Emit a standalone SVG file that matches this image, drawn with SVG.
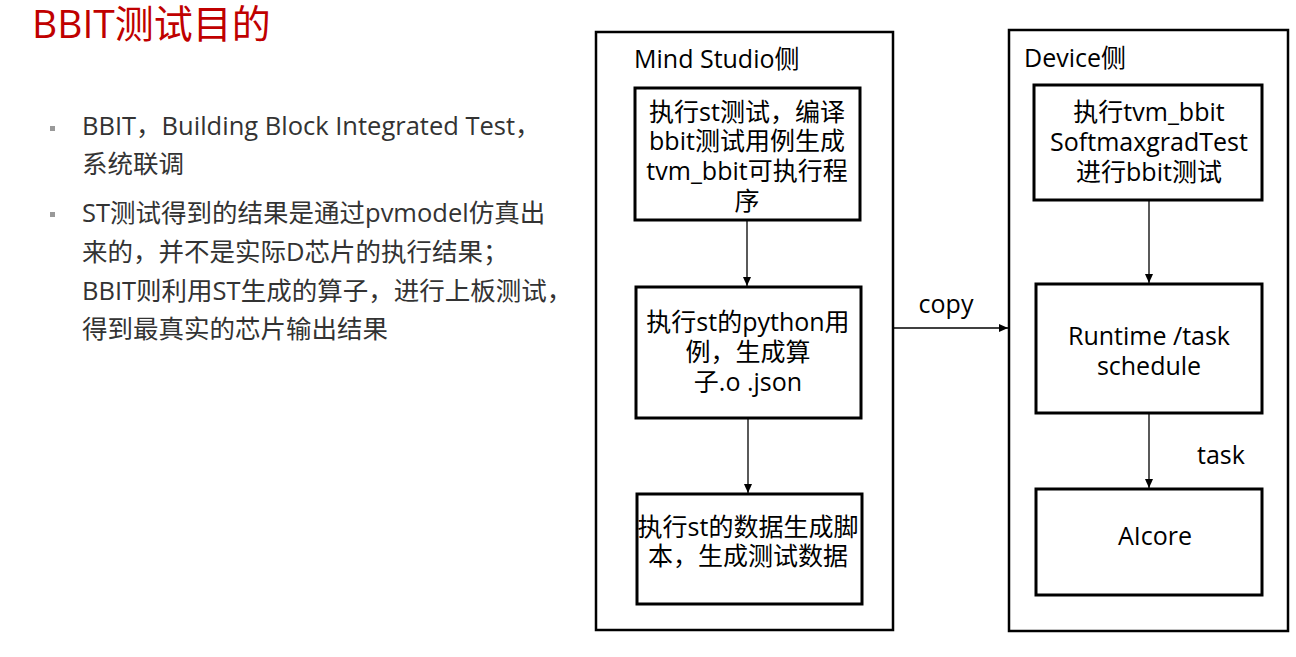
<svg xmlns="http://www.w3.org/2000/svg" width="1296" height="657" viewBox="0 0 1296 657">
<defs>
<style>
text{font-family:"Open Sans","Noto Sans CJK SC",sans-serif;}
.title{font-size:39px;fill:#c00000;}
.body{font-size:25.5px;fill:#333;}
.lbl{font-size:25px;fill:#000;text-anchor:middle;}
.hdr{font-size:25px;fill:#000;}
.box{fill:#fff;stroke:#000;stroke-width:3;}
.frame{fill:#fff;stroke:#000;stroke-width:2.5;}
.conn{stroke:#000;stroke-width:1.3;fill:none;marker-end:url(#ah);}
.bul{fill:#999;}
</style>
<marker id="ah" markerWidth="10" markerHeight="10" refX="9" refY="5" orient="auto" markerUnits="userSpaceOnUse">
<path d="M0,1 L9,5 L0,9 Z" fill="#000"/>
</marker>
</defs>
<rect width="1296" height="657" fill="#fff"/>
<text class="title" x="32" y="38">BBIT测试目的</text>
<g id="bullets">
<rect class="bul" x="50" y="126" width="5" height="5"/>
<rect class="bul" x="50" y="212" width="5" height="5"/>
<text class="body" x="82" y="135">BBIT，Building Block Integrated Test，</text>
<text class="body" x="82" y="173">系统联调</text>
<text class="body" x="82" y="222">ST测试得到的结果是通过pvmodel仿真出</text>
<text class="body" x="82" y="261">来的，并不是实际D芯片的执行结果；</text>
<text class="body" x="82" y="300">BBIT则利用ST生成的算子，进行上板测试，</text>
<text class="body" x="82" y="338">得到最真实的芯片输出结果</text>
</g>
<g id="mindstudio">
<rect class="frame" x="596" y="32" width="297" height="598"/>
<text class="hdr" x="634" y="68">Mind Studio侧</text>
</g>
<g id="device">
<rect class="frame" x="1009" y="30" width="279" height="601"/>
<text class="hdr" x="1024" y="67">Device侧</text>
</g>
<g id="n1">
<rect class="box" x="635" y="88" width="225" height="132"/>
<text class="lbl" x="747" y="121">执行st测试，编译</text>
<text class="lbl" x="747" y="150">bbit测试用例生成</text>
<text class="lbl" x="747" y="180">tvm_bbit可执行程</text>
<text class="lbl" x="747" y="210">序</text>
</g>
<g id="n2">
<rect class="box" x="636" y="287" width="225" height="131"/>
<text class="lbl" x="748" y="331">执行st的python用</text>
<text class="lbl" x="748" y="361">例，生成算</text>
<text class="lbl" x="748" y="391">子.o .json</text>
</g>
<g id="n3">
<rect class="box" x="637" y="494" width="225" height="110"/>
<text class="lbl" x="748" y="536">执行st的数据生成脚</text>
<text class="lbl" x="748" y="565">本，生成测试数据</text>
</g>
<g id="r1">
<rect class="box" x="1034" y="85" width="228" height="115"/>
<text class="lbl" x="1149" y="121">执行tvm_bbit</text>
<text class="lbl" x="1149" y="151">SoftmaxgradTest</text>
<text class="lbl" x="1149" y="181">进行bbit测试</text>
</g>
<g id="r2">
<rect class="box" x="1036" y="284" width="226" height="129"/>
<text class="lbl" x="1149" y="345">Runtime /task</text>
<text class="lbl" x="1149" y="375">schedule</text>
</g>
<g id="r3">
<rect class="box" x="1036" y="489" width="226" height="106"/>
<text class="lbl" x="1155" y="545">AIcore</text>
</g>
<g id="connectors">
<line class="conn" x1="747" y1="221" x2="747" y2="286"/>
<line class="conn" x1="748" y1="419" x2="748" y2="493"/>
<line class="conn" x1="894" y1="328" x2="1008" y2="328"/>
<line class="conn" x1="1149" y1="201" x2="1149" y2="283"/>
<line class="conn" x1="1149" y1="414" x2="1149" y2="488"/>
<text class="lbl" x="946" y="313">copy</text>
<text class="lbl" x="1221" y="464">task</text>
</g>
</svg>
